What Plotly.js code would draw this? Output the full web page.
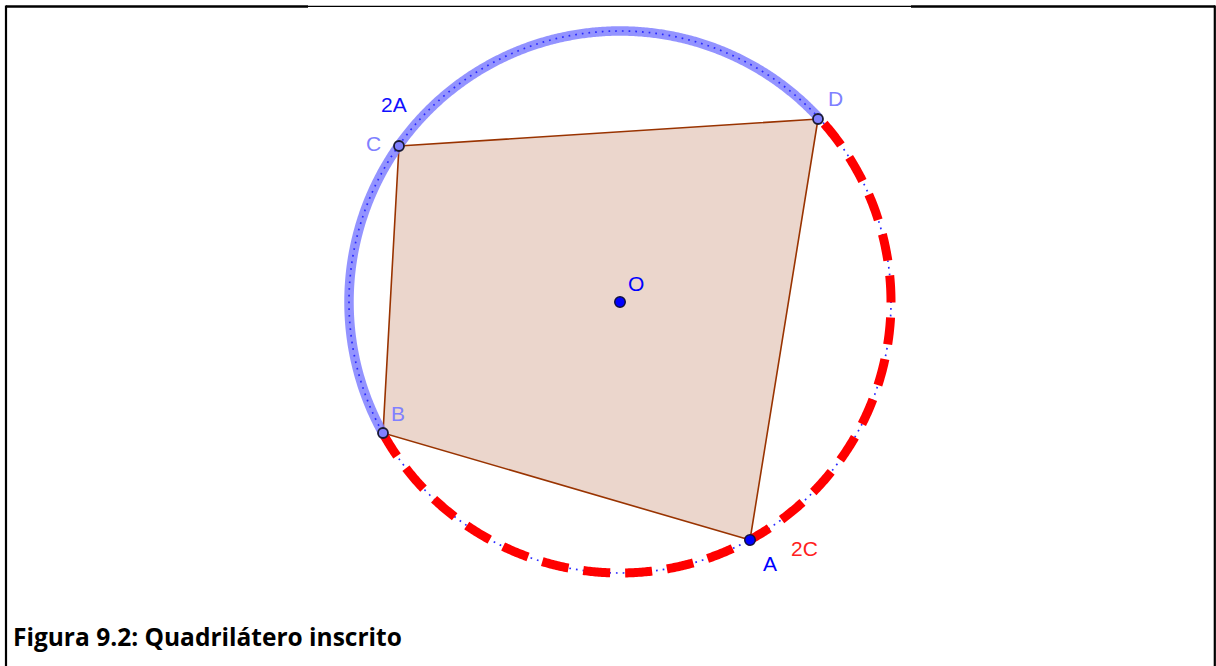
<!DOCTYPE html>
<html>
<head>
<meta charset="utf-8">
<script src="https://cdn.plot.ly/plotly-3.0.1.min.js"></script>
<style>html,body{margin:0;padding:0;background:#fff;}#plot{width:1216px;height:666px;}</style>
</head>
<body>
<div id="plot"></div>
<script>
// Geometry data (units ≈ pixels, origin at centre O, y up)
const pointNames = ["A", "B", "C", "D"];
const pointX = [130, -237, -221, 198];
const pointY = [-238, -131, 156, 183];
const centerName = "O";
const centerX = [0];
const centerY = [0];
const radius = 271;
const arcLabels = ["2A", "2C"];
const captionText = "Figura 9.2: Quadrilátero inscrito";

function ang(i) {
  let a = Math.atan2(pointY[i], pointX[i]) * 180 / Math.PI;
  if (a < 0) a += 360;
  return a;
}
function arc(a0, a1) {
  const xs = [], ys = [];
  const n = Math.max(2, Math.ceil(Math.abs(a1 - a0) * 3));
  for (let k = 0; k <= n; k++) {
    const t = (a0 + (a1 - a0) * k / n) * Math.PI / 180;
    xs.push(centerX[0] + radius * Math.cos(t));
    ys.push(centerY[0] + radius * Math.sin(t));
  }
  return {x: xs, y: ys};
}
const aA = ang(0), aB = ang(1), aC = ang(2), aD = ang(3);
const blueArc = arc(aD, aB);           // D -> C -> B (through top/left)
const redArc = arc(aB, aD + 360);      // B -> A -> D (through bottom/right)
const fullCircle = arc(0, 360);

const quadOrder = [2, 3, 0, 1, 2]; // C D A B C
const traces = [
  {x: quadOrder.map(i => pointX[i]), y: quadOrder.map(i => pointY[i]), mode: "lines",
   fill: "toself", fillcolor: "rgba(153,51,0,0.2)", line: {color: "#993300", width: 1.6}, hoverinfo: "skip"},
  {x: blueArc.x, y: blueArc.y, mode: "lines", line: {color: "rgba(120,120,255,0.8)", width: 9.5, simplify: false}, hoverinfo: "skip"},
  {x: fullCircle.x, y: fullCircle.y, mode: "lines", line: {color: "#2a2aff", width: 1.7, dash: "1.7px,5px", simplify: false}, hoverinfo: "skip"},
  {x: redArc.x, y: redArc.y, mode: "lines", line: {color: "#ff0000", width: 9, dash: "27px,15px", simplify: false}, hoverinfo: "skip"},
  {x: [pointX[1], pointX[2], pointX[3]], y: [pointY[1], pointY[2], pointY[3]], mode: "markers",
   marker: {size: 10, color: "#8080ff", line: {color: "#1a1a33", width: 1.8}}, hoverinfo: "skip"},
  {x: [pointX[0], centerX[0]], y: [pointY[0], centerY[0]], mode: "markers",
   marker: {size: 10.5, color: "#0000ff", line: {color: "#101040", width: 1.5}}, hoverinfo: "skip"}
];

const lab = (text, x, y, color) => ({text: text, x: x, y: y, xref: "x", yref: "y", showarrow: false,
  font: {family: "Liberation Sans, Arial, sans-serif", size: 21, color: color}});
const annotations = [
  lab(pointNames[2], pointX[2] - 26, pointY[2] + 3, "#8080ff"),
  lab(pointNames[3], pointX[3] + 17, pointY[3] + 21, "#8080ff"),
  lab(pointNames[1], pointX[1] + 15, pointY[1] + 20, "#8080ff"),
  lab(pointNames[0], pointX[0] + 20, pointY[0] - 23, "#0000ff"),
  lab(centerName, centerX[0] + 16, centerY[0] + 19, "#0000ff"),
  lab(arcLabels[0], -226, 198, "#1010ff"),
  lab(arcLabels[1], 184, -246, "#ff2020"),
  {text: "<b>" + captionText + "</b>", x: 11 / 1216, y: 1 - 636 / 666, xref: "paper", yref: "paper",
   xanchor: "left", yanchor: "middle", showarrow: false,
   font: {family: "Open Sans, sans-serif", size: 24.5, color: "#000"}}
];

const px = v => v / 1216, py = v => 1 - v / 666;
const seg = (x0, y0, x1, y1, w) => ({type: "line", xref: "paper", yref: "paper",
  x0: px(x0), y0: py(y0), x1: px(x1), y1: py(y1), line: {color: "#000", width: w}});
const shapes = [
  seg(6, 6.5, 308, 6.5, 2.5),
  seg(308, 6.3, 911, 6.3, 1.2),
  seg(911, 6.5, 1215, 6.5, 2.5),
  seg(6, 5.5, 6, 666, 2.2),
  seg(1214.8, 5.5, 1214.8, 666, 2.2)
];

const layout = {
  width: 1216, height: 666, margin: {l: 0, r: 0, t: 0, b: 0},
  paper_bgcolor: "#fff", plot_bgcolor: "#fff", showlegend: false,
  xaxis: {range: [-620, 596], visible: false, fixedrange: true},
  yaxis: {range: [-364, 302], visible: false, fixedrange: true},
  annotations: annotations, shapes: shapes
};
Plotly.newPlot("plot", traces, layout, {staticPlot: true, displayModeBar: false});
</script>
</body>
</html>
